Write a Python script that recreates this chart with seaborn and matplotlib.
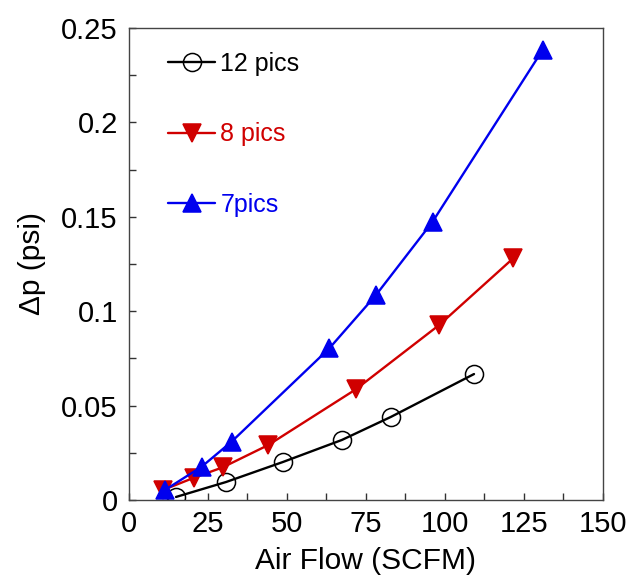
import numpy as np
import pandas as pd
import matplotlib
matplotlib.use("Agg")
import matplotlib.pyplot as plt
import matplotlib.ticker as mticker
import seaborn as sns

# data
flow_12 = [14.9, 30.7, 48.7, 67.4, 82.9, 109.2]
dp_12 = [0.0016, 0.0095, 0.0201, 0.0318, 0.0440, 0.0667]

flow_8 = [10.8, 20.6, 29.7, 44.1, 71.8, 98.2, 121.6]
dp_8 = [0.0053, 0.0118, 0.0173, 0.0291, 0.0586, 0.0927, 0.1280]

flow_7 = [11.4, 23.0, 32.5, 63.4, 78.2, 96.1, 130.9]
dp_7 = [0.0053, 0.0176, 0.0309, 0.0803, 0.1086, 0.1474, 0.2383]

series = [
    ("12 pics", flow_12, dp_12, "black", "o", "none", 13),
    ("8 pics", flow_8, dp_8, "#d00000", "v", "#d00000", 13),
    ("7pics", flow_7, dp_7, "#0000ee", "^", "#0000ee", 13),
]

sns.set_style("ticks")
plt.rcParams["font.family"] = ["Liberation Sans", "DejaVu Sans"]

fig = plt.figure(figsize=(6.32, 5.83), dpi=100)
ax = fig.add_axes([0.204, 0.1424, 0.750, 0.8096])

for name, x, y, col, mk, fc, ms in series:
    df = pd.DataFrame({"flow": x, "dp": y})
    sns.lineplot(data=df, x="flow", y="dp", ax=ax, color=col, marker=mk,
                 markersize=ms, markerfacecolor=fc, markeredgecolor=col,
                 markeredgewidth=1.1, linewidth=1.7, label=name, sort=False)

ax.set_xlim(0, 150)
ax.set_ylim(0, 0.25)
ax.xaxis.set_major_locator(mticker.MultipleLocator(25))
ax.xaxis.set_minor_locator(mticker.MultipleLocator(12.5))
ax.yaxis.set_major_locator(mticker.MultipleLocator(0.05))
ax.yaxis.set_minor_locator(mticker.MultipleLocator(0.025))
ax.yaxis.set_major_formatter(mticker.FormatStrFormatter("%g"))
ax.tick_params(which="both", direction="in", length=5, width=1,
               colors="#333333", labelcolor="black", labelsize=21,
               top=False, right=False)
ax.tick_params(axis="x", pad=7)
ax.tick_params(axis="y", pad=8)

for s in ax.spines.values():
    s.set_color("#444444")
    s.set_linewidth(1.0)

ax.set_xlabel("Air Flow (SCFM)", fontsize=21.5, color="black", labelpad=7)
ax.set_ylabel("\u0394p (psi)", fontsize=21.5, color="black", labelpad=11)

leg = ax.legend(loc="upper left", bbox_to_anchor=(0.045, 0.986), frameon=False,
                fontsize=18, labelspacing=1.85, handlelength=1.9,
                handletextpad=0.2, borderpad=0.2)
for txt, (_, _, _, col, _, _, _) in zip(leg.get_texts(), series):
    txt.set_color(col)

fig.savefig("out.png", dpi=100)
